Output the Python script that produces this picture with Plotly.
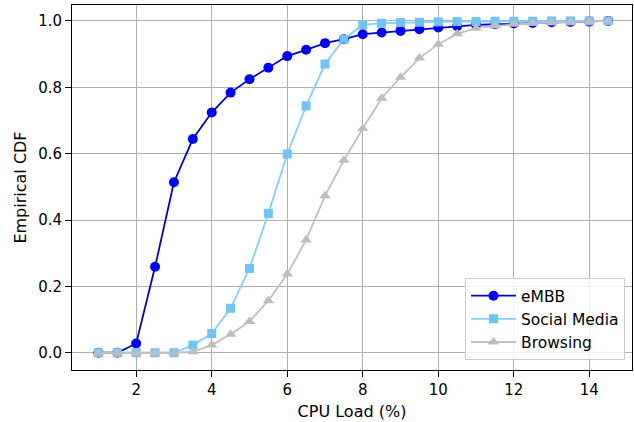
import plotly.graph_objects as go

cpu_load = [1.0, 1.5, 2.0, 2.5, 3.0, 3.5, 4.0, 4.5, 5.0, 5.5, 6.0, 6.5, 7.0, 7.5,
            8.0, 8.5, 9.0, 9.5, 10.0, 10.5, 11.0, 11.5, 12.0, 12.5, 13.0, 13.5, 14.0, 14.5]

embb = [0.0, 0.0, 0.028, 0.259, 0.514, 0.644, 0.724, 0.784, 0.824, 0.859, 0.894, 0.913,
        0.933, 0.945, 0.960, 0.965, 0.970, 0.975, 0.980, 0.984, 0.988, 0.990, 0.992,
        0.994, 0.996, 0.997, 0.998, 1.0]

social_media = [0.0, 0.0, 0.0, 0.0, 0.0, 0.023, 0.058, 0.134, 0.254, 0.420, 0.599, 0.744,
                0.870, 0.945, 0.988, 0.993, 0.995, 0.996, 0.997, 0.998, 0.998, 0.999,
                0.999, 0.999, 1.0, 1.0, 1.0, 1.0]

browsing = [0.0, 0.0, 0.0, 0.0, 0.0, 0.003, 0.023, 0.056, 0.094, 0.157, 0.237, 0.340,
            0.473, 0.580, 0.676, 0.767, 0.830, 0.888, 0.930, 0.961, 0.978, 0.985, 0.990,
            0.993, 0.995, 0.997, 0.998, 1.0]

x_ticks = [2, 4, 6, 8, 10, 12, 14]
y_ticks = [0.0, 0.2, 0.4, 0.6, 0.8, 1.0]

FONT = "DejaVu Sans"

fig = go.Figure()
fig.add_trace(go.Scatter(x=cpu_load, y=embb, name="eMBB", mode="lines+markers",
                         line=dict(color="#0000d8", width=1.8),
                         marker=dict(symbol="circle", size=10, color="#0000ff")))
fig.add_trace(go.Scatter(x=cpu_load, y=social_media, name="Social Media", mode="lines+markers",
                         line=dict(color="#87cefa", width=1.8),
                         marker=dict(symbol="square", size=9, color="#6ec3f7")))
fig.add_trace(go.Scatter(x=cpu_load, y=browsing, name="Browsing", mode="lines+markers",
                         line=dict(color="#c0c0c0", width=1.8),
                         marker=dict(symbol="triangle-up", size=10, color="#bdbdbd")))

axis_common = dict(showline=True, linecolor="black", linewidth=1, mirror=True,
                   ticks="outside", ticklen=6, tickcolor="black", automargin=False,
                   showgrid=True, gridcolor="#b0b0b0", gridwidth=1, zeroline=False,
                   tickfont=dict(family=FONT, size=15, color="black"))

fig.update_xaxes(range=[0.30, 15.13], tickvals=x_ticks,
                 title=dict(text="CPU Load (%)", font=dict(family=FONT, size=16, color="black"),
                            standoff=7),
                 **axis_common)
fig.update_yaxes(range=[-0.052, 1.048], tickvals=y_ticks, tickformat=".1f",
                 title=dict(text="Empirical CDF", font=dict(family=FONT, size=16, color="black"),
                            standoff=7),
                 **axis_common)

fig.update_layout(
    width=634, height=422,
    margin=dict(l=72, r=2, t=5, b=52),
    plot_bgcolor="white", paper_bgcolor="white",
    font=dict(family=FONT, size=15, color="black"),
    legend=dict(x=0.9875, y=0.027, xanchor="right", yanchor="bottom",
                bgcolor="rgba(255,255,255,0.85)", bordercolor="#cccccc", borderwidth=1,
                font=dict(family=FONT, size=15.5, color="black"),
                itemwidth=45, tracegroupgap=0),
    showlegend=True,
)

fig.write_html("out.html",
               config={"displayModeBar": False},
               post_script="document.body.style.margin='0px';document.body.style.overflow='hidden';")
